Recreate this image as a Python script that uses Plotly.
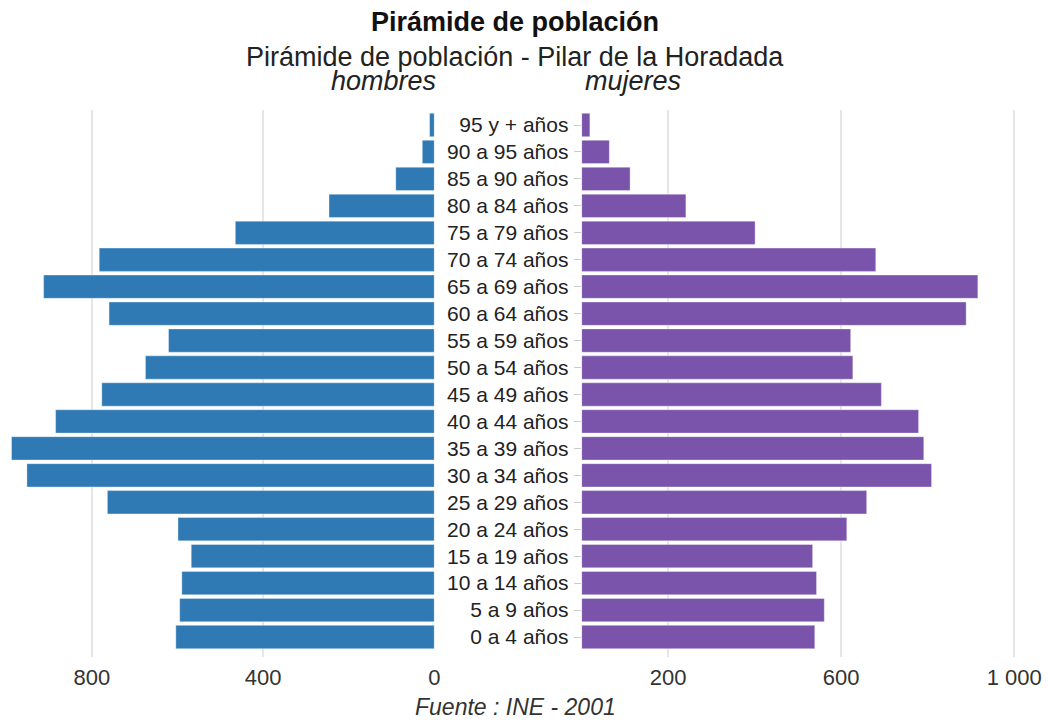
import plotly.graph_objects as go

categorias = ["95 y + años", "90 a 95 años", "85 a 90 años", "80 a 84 años", "75 a 79 años",
              "70 a 74 años", "65 a 69 años", "60 a 64 años", "55 a 59 años", "50 a 54 años",
              "45 a 49 años", "40 a 44 años", "35 a 39 años", "30 a 34 años", "25 a 29 años",
              "20 a 24 años", "15 a 19 años", "10 a 14 años", "5 a 9 años", "0 a 4 años"]
hombres = [11, 28, 90, 246, 465, 783, 913, 760, 621, 675,
           777, 885, 988, 952, 764, 599, 568, 590, 595, 604]
mujeres = [19, 64, 112, 241, 401, 680, 916, 889, 622, 627,
           693, 779, 791, 809, 659, 613, 534, 543, 561, 539]

ticks_h = [0, 400, 800]
ticks_m = [200, 600, 1000]
ticks_m_txt = ["200", "600", "1 000"]

W, H = 1048, 720
T = 110
B = H - 657
PH = H - T - B

def fx(p):
    return p / W

def fy(p):
    return (H - B - p) / PH

# category band placement inside the plot area (first centre 125px, last 637px)
pitch = (637 - 125) / (len(categorias) - 1)
y_top = -(125 - T) / pitch
y_bot = (len(categorias) - 1) + ((H - B) - 637) / pitch

FONT = "Liberation Sans, Arial, sans-serif"
AZUL = "#2f7ab4"
MORADO = "#7a53ab"
GRID = "#e6e6e6"
PXU_L = (437 - 92.7) / 800
PXU_R = (1020 - 585) / 1000

fig = go.Figure()
fig.add_trace(go.Bar(y=categorias, x=hombres, orientation="h", xaxis="x", yaxis="y",
                     marker=dict(color=AZUL, line=dict(color="rgba(255,255,255,0.35)", width=1)),
                     name="hombres", showlegend=False))
fig.add_trace(go.Bar(y=categorias, x=mujeres, orientation="h", xaxis="x2", yaxis="y2",
                     marker=dict(color=MORADO, line=dict(color="rgba(255,255,255,0.35)", width=1)),
                     name="mujeres", showlegend=False))

left_w = 437
right_w = 1043 - 585
fig.update_layout(
    width=W, height=H,
    margin=dict(l=0, r=0, t=T, b=B),
    paper_bgcolor="white", plot_bgcolor="white",
    font=dict(family=FONT, color="#333333"),
    bargap=0.135,
    xaxis=dict(domain=[0, fx(437)], range=[left_w / PXU_L - 0.5, -0.5], tickvals=ticks_h,
               showgrid=True, gridcolor=GRID, gridwidth=1.5, zeroline=False,
               showline=False, ticks="", ticklabelstandoff=5,
               tickfont=dict(size=22, color="#333333")),
    yaxis=dict(anchor="x", range=[y_bot, y_top], autorange=False, showticklabels=False,
               showgrid=False, ticks="", showline=False, zeroline=False,
               categoryorder="array", categoryarray=categorias),
    xaxis2=dict(domain=[fx(585), fx(1043)], range=[0, right_w / PXU_R], tickvals=ticks_m,
                ticktext=ticks_m_txt, anchor="y2",
                showgrid=True, gridcolor=GRID, gridwidth=1.5, zeroline=False,
                showline=False, ticks="", ticklabelstandoff=5,
                tickfont=dict(size=22, color="#333333")),
    yaxis2=dict(anchor="x2", range=[y_bot, y_top], autorange=False,
                categoryorder="array", categoryarray=categorias,
                showgrid=False, showline=False,
                zeroline=False, ticks="outside", ticklen=7, tickcolor="#cccccc",
                tickwidth=1, ticklabelstandoff=1,
                tickfont=dict(size=21, color="#222222")),
)

ann = [
    dict(text="<b>Pirámide de población</b>", x=fx(518), y=fy(22),
         font=dict(size=27, color="#111111")),
    dict(text="Pirámide de población - Pilar de la Horadada", x=fx(518), y=fy(57.5),
         font=dict(size=27, color="#222222")),
    dict(text="<i>hombres</i>", x=fx(441), y=fy(81), xanchor="right",
         font=dict(size=27, color="#222222")),
    dict(text="<i>mujeres</i>", x=fx(586), y=fy(81), xanchor="left",
         font=dict(size=27, color="#222222")),
    dict(text="<i>Fuente : INE - 2001</i>", x=fx(518), y=fy(707),
         font=dict(size=23, color="#333333")),
]
for a in ann:
    a.setdefault("xanchor", "center")
    fig.add_annotation(xref="paper", yref="paper", showarrow=False, yanchor="middle", **a)

fig.write_html("out.html", config={"displayModeBar": False},
               post_script="document.body.style.margin='0';")
